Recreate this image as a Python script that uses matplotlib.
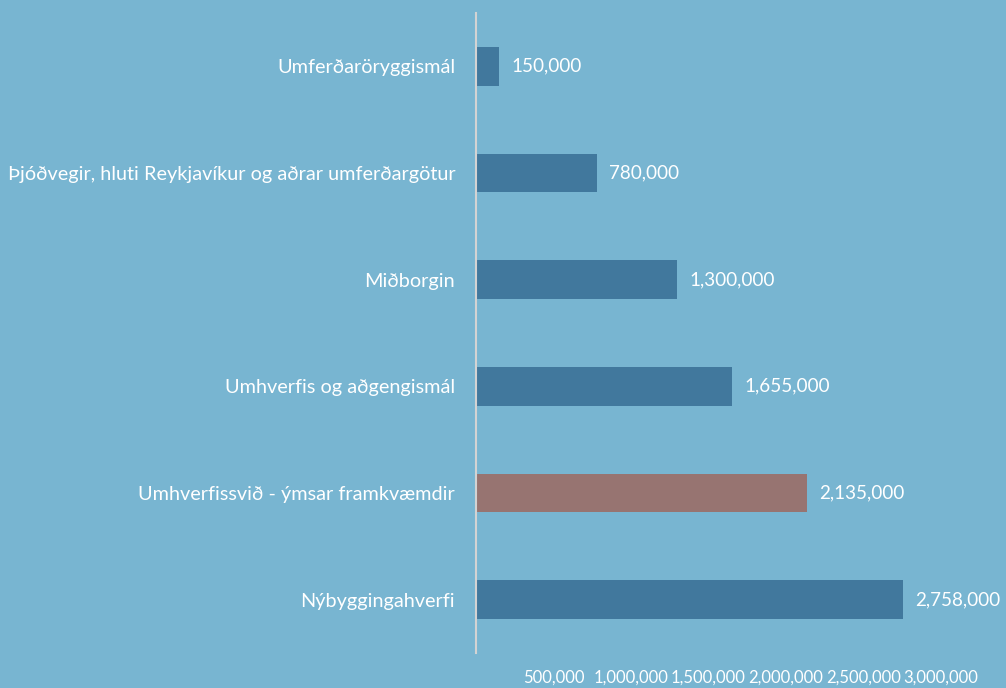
import matplotlib
matplotlib.use("Agg")
import matplotlib.pyplot as plt
from matplotlib.ticker import FuncFormatter

categories = [
    "Umferðaröryggismál",
    "Þjóðvegir, hluti Reykjavíkur og aðrar umferðargötur",
    "Miðborgin",
    "Umhverfis og aðgengismál",
    "Umhverfissvið - ýmsar framkvæmdir",
    "Nýbyggingahverfi",
]
values = [150000, 780000, 1300000, 1655000, 2135000, 2758000]
highlight = "Umhverfissvið - ýmsar framkvæmdir"
xticks = [500000, 1000000, 1500000, 2000000, 2500000, 3000000]

BG = "#78B5D1"
BAR = "#41789D"
RED = "#977471"
plt.rcParams['font.family'] = ['Lato', 'DejaVu Sans']

W, H = 1006, 688
fig = plt.figure(figsize=(W / 100, H / 100), dpi=100)
fig.patch.set_facecolor(BG)
ax = fig.add_axes([476 / W, 1 - 653 / H, (W - 476) / W, 640 / H])
ax.set_facecolor(BG)

n = len(categories)
ypos = list(range(n))
colors = [RED if c == highlight else BAR for c in categories]
ax.barh(ypos, values, height=0.365, color=colors, zorder=2)
ax.set_ylim(n - 0.5, -0.5)
ax.set_xlim(0, 3.42e6)

for y, v in zip(ypos, values):
    ax.annotate(f"{v:,}", (v, y), xytext=(8.5, 0), textcoords="offset points",
                va="center", ha="left", color="white", fontsize=13.6)

ax.set_yticks(ypos)
ax.set_yticklabels(categories, color="white", fontsize=14.3)
ax.tick_params(axis="y", length=0, pad=15)
ax.set_xticks(xticks)
ax.xaxis.set_major_formatter(FuncFormatter(lambda x, p: f"{int(x):,}"))
ax.tick_params(axis="x", length=0, pad=12, colors="white", labelsize=12)

for s in ["top", "right", "bottom"]:
    ax.spines[s].set_visible(False)
ax.spines["left"].set_color("#D3D3D3")
ax.spines["left"].set_linewidth(1.5)

fig.savefig("out.png", dpi=100, facecolor=BG)
